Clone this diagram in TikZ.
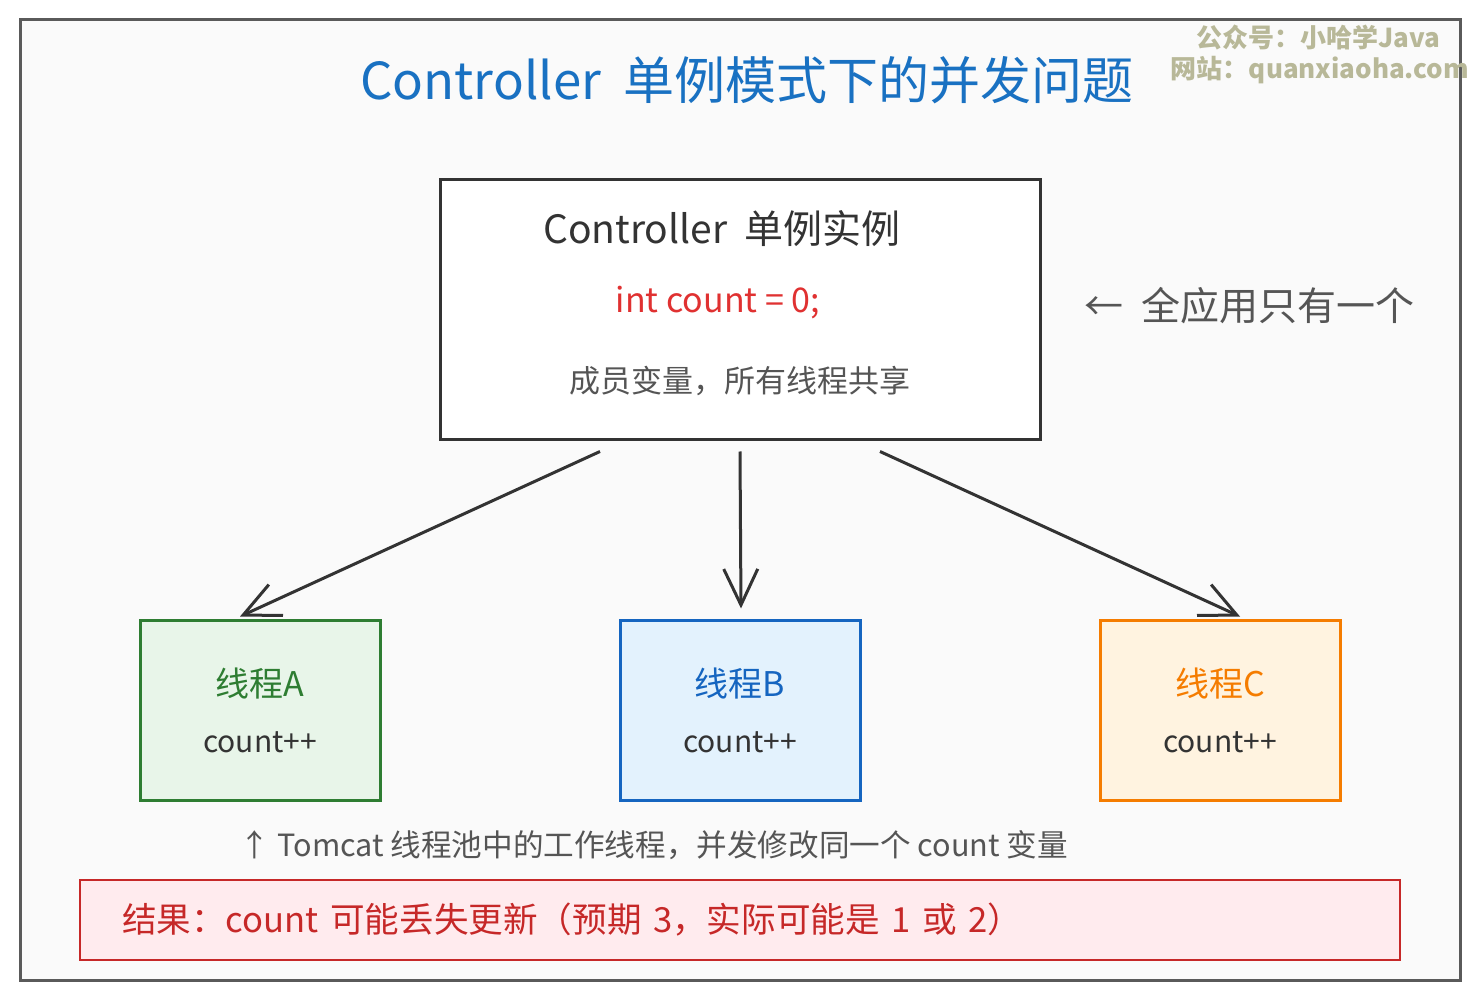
\documentclass[tikz,border=0pt]{standalone}
\usepackage{fontspec}
\setmainfont{Noto Sans CJK SC}
\usepackage{tikz}
\usetikzlibrary{arrows.meta}
\definecolor{titleblue}{HTML}{1971C2}
\definecolor{framegray}{HTML}{5A5A5A}
\definecolor{bggray}{HTML}{FAFAFA}
\definecolor{inkdark}{HTML}{333333}
\definecolor{textgray}{HTML}{555555}
\definecolor{countred}{HTML}{E03131}
\definecolor{resred}{HTML}{C62828}
\definecolor{resfill}{HTML}{FFEBEE}
\definecolor{agreen}{HTML}{2E7D32}
\definecolor{afill}{HTML}{E8F5E9}
\definecolor{bblue}{HTML}{1565C0}
\definecolor{bfill}{HTML}{E3F2FD}
\definecolor{corange}{HTML}{F57C00}
\definecolor{cfill}{HTML}{FFF3E0}
\definecolor{markolive}{HTML}{B8B898}
\tikzstyle{singleton} = [rectangle, minimum width=300pt, minimum height=130pt, draw=inkdark, line width=1.5pt, fill=white]
\tikzstyle{thread} = [rectangle, minimum width=120pt, minimum height=90pt, line width=1.5pt, align=center]
\tikzstyle{result} = [rectangle, text width=618pt, inner xsep=21pt, minimum height=40pt, draw=resred, line width=1pt, fill=resfill, align=left]
\tikzstyle{arrow} = [draw=inkdark, line width=1.5pt, -{Straight Barb[length=18pt,width=17pt]}]

\begin{document}
\begin{tikzpicture}[x=0.5pt, y=-0.5pt, node distance=200pt]
        \useasboundingbox (0,0) rectangle (1480,1000);
        \draw [framegray, fill=bggray, line width=1.5pt] (20,20) rectangle (1460,980);
        % title and watermark
        \node (title) at (747,80) [text=titleblue, font=\fontsize{25.5pt}{28pt}\selectfont] {Controller\ \ 单例模式下的并发问题};
        \node (mark1) at (1318,38) [text=markolive, font=\bfseries\fontsize{13pt}{15pt}\selectfont] {公众号：小哈学Java};
        \node (mark2) at (1320,70) [text=markolive, font=\bfseries\fontsize{13pt}{15pt}\selectfont] {网站：quanxiaoha.com};
        % singleton instance
        \node (main) at (740,310) [singleton] {};
        \node (mainname) at ([xshift=-9pt,yshift=-25pt]main.north) [text=inkdark, font=\fontsize{19.5pt}{22pt}\selectfont] {Controller\ \ 单例实例};
        \node (field) at ([xshift=-11pt,yshift=-62pt]main.north) [text=countred, font=\fontsize{17pt}{20pt}\selectfont] {int count = 0;};
        \node (shared) at ([yshift=-101pt]main.north) [text=textgray, font=\fontsize{15.5pt}{18pt}\selectfont] {成员变量，所有线程共享};
        \node (onlyone) at ([xshift=18pt,yshift=2pt]main.east) [anchor=west, text=textgray, font=\fontsize{19.5pt}{22pt}\selectfont] {←\ \ 全应用只有一个};
        % worker threads
        \node (threadB) [thread, below of=main, draw=bblue, fill=bfill] {\textcolor{bblue}{\fontsize{17pt}{19pt}\selectfont 线程B}\\[16pt]\textcolor{inkdark}{\fontsize{15pt}{17pt}\selectfont count++}};
        \node (threadA) [thread, left of=threadB, xshift=-40pt, draw=agreen, fill=afill] {\textcolor{agreen}{\fontsize{17pt}{19pt}\selectfont 线程A}\\[16pt]\textcolor{inkdark}{\fontsize{15pt}{17pt}\selectfont count++}};
        \node (threadC) [thread, right of=threadB, xshift=40pt, draw=corange, fill=cfill] {\textcolor{corange}{\fontsize{17pt}{19pt}\selectfont 线程C}\\[16pt]\textcolor{inkdark}{\fontsize{15pt}{17pt}\selectfont count++}};
        \draw [arrow] ([xshift=-70pt,yshift=-5pt]main.south) -- ([xshift=-10pt,yshift=1pt]threadA.north);
        \draw [arrow] ([yshift=-5pt]main.south) -- ([xshift=0.5pt,yshift=5pt]threadB.north);
        \draw [arrow] ([xshift=70pt,yshift=-5pt]main.south) -- ([xshift=10pt,yshift=1pt]threadC.north);
        % note and result
        \node (pool) at (654,845) [text=textgray, font=\fontsize{15.3pt}{17pt}\selectfont] {↑ Tomcat 线程池中的工作线程，并发修改同一个 count 变量};
        \node (res) at (740,920) [result, text=resred, font=\fontsize{17.3pt}{19pt}\selectfont] {结果：count 可能丢失更新（预期 3，实际可能是 1 或 2）};
\end{tikzpicture}
\end{document}
